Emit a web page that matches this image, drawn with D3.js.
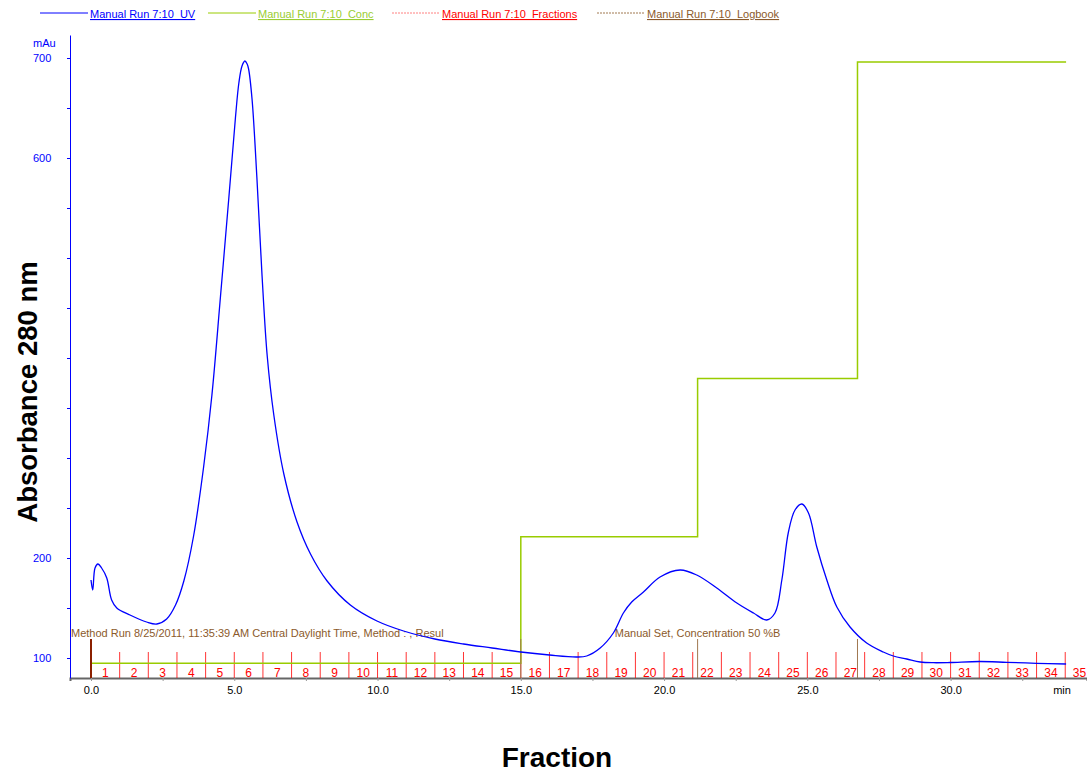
<!DOCTYPE html>
<html>
<head>
<meta charset="utf-8">
<title>Chromatogram</title>
<style>
  body { margin: 0; background: #fff; }
  svg { display: block; font-family: "Liberation Sans", Arial, sans-serif; }
</style>
</head>
<body>
<script src="https://cdn.jsdelivr.net/npm/d3@7"></script>
<script>
  // UV trace (min, mAu)
  var uvTime = [0.00, 0.06, 0.14, 0.24, 0.37, 0.55, 0.72, 0.90, 1.36, 1.94, 2.30, 2.64, 2.95, 3.24, 3.58, 3.93,
    4.22, 4.52, 4.81, 5.04, 5.16, 5.27, 5.37, 5.45, 5.50, 5.62, 5.79, 5.97, 6.15, 6.38, 6.73, 7.19, 7.66, 8.24,
    9.05, 9.98, 10.91, 12.0, 13.0, 14.0, 15.0, 16.0, 16.95, 17.30, 17.77, 18.23, 18.58, 18.87, 19.28, 19.86,
    20.56, 21.14, 21.84, 22.54, 23.12, 23.58, 23.87, 24.11, 24.34, 24.57, 24.81, 25.04, 25.33, 25.68, 26.03,
    26.49, 27.07, 27.65, 28.0, 28.47, 28.94, 29.4, 29.98, 31.0, 31.96, 33.0, 34.03];
  var uvAbs = [178, 168, 190, 194, 190, 180, 158, 150, 143, 136, 134, 139, 153, 177, 222, 291,
    363, 462, 560, 640, 675, 692, 697, 694, 689, 659, 580, 482, 402, 343, 284, 236, 204, 177,
    153, 137, 127, 119, 114, 110, 106, 103, 101, 102, 110, 125, 145, 156, 166, 181,
    188, 183, 170, 155, 145, 138, 145, 178, 226, 248, 254, 245, 211, 178, 151,
    131, 115, 106, 102, 99, 96, 95.3, 95.5, 96.5, 95.7, 94.7, 94];

  // concentration steps (%B)
  var concTime = [0, 15.0, 21.17, 26.75, 34.03];
  var concValue = [5, 25, 50, 100, 100];

  // fractions, 1 min each
  var fractionStart = d3.range(0, 35);
  var fractionLabels = d3.range(1, 36).map(String);

  // logbook
  var logTime = [0, 15.0, 21.17, 26.75];
  var logText = ["Method Run 8/25/2011, 11:35:39 AM Central Daylight Time, Method : , Resul", "", "Manual Set, Concentration 50 %B", ""];

  var yTickLabels = [100, 200, 600, 700];
  var xTickLabels = [0, 5, 10, 15, 20, 25, 30];

  var legendNames = ["Manual Run 7:10_UV", "Manual Run 7:10_Conc", "Manual Run 7:10_Fractions", "Manual Run 7:10_Logbook"];

  var width = 1087, height = 776;
  var uvColor = "#0000ff", concColor = "#99cc00", fracColor = "#ff0000", logColor = "#a07850", logText_c = "#8b5a2b";

  var svg = d3.select("body").append("svg")
      .attr("width", width).attr("height", height);

  var x = d3.scaleLinear().domain([-0.733, 34.76]).range([70, 1087]);
  var y = d3.scaleLinear().domain([80, 723]).range([678, 35]);
  var yConc = d3.scaleLinear().domain([0, 100]).range([695, 62]);

  // x axis
  var xAxis = svg.append("g")
      .attr("transform", "translate(0,678)")
      .call(d3.axisBottom(x).tickValues(d3.range(0, 33, 2.5)).tickSize(3)
        .tickFormat(d => xTickLabels.includes(d) ? d.toFixed(1) : ""));
  xAxis.select(".domain").attr("stroke", "#666").attr("stroke-width", 2);
  xAxis.selectAll(".tick line").attr("stroke", "#999");
  xAxis.selectAll(".tick text").attr("font-size", 11).attr("fill", "#000").attr("dy", "0.9em");
  svg.append("text").attr("x", 1062).attr("y", 694).attr("text-anchor", "middle")
      .attr("font-size", 11).text("min");

  // y axis
  var yAxis = svg.append("g")
      .attr("transform", "translate(70,0)")
      .call(d3.axisLeft(y).tickValues(d3.range(100, 701, 50)).tickSize(3).tickSizeOuter(0)
        .tickFormat(d => yTickLabels.includes(d) ? d : ""));
  yAxis.select(".domain").attr("stroke", uvColor);
  yAxis.selectAll(".tick line").attr("stroke", uvColor);
  yAxis.selectAll(".tick text").attr("font-size", 11).attr("fill", uvColor)
      .attr("text-anchor", "start").attr("x", -37);
  svg.append("text").attr("x", 33).attr("y", 47).attr("font-size", 11).attr("fill", uvColor).text("mAu");

  // fractions
  svg.append("g").selectAll("line")
    .data(fractionStart)
    .join("line")
      .attr("x1", d => x(d)).attr("x2", d => x(d))
      .attr("y1", 652).attr("y2", 678)
      .attr("stroke", fracColor).attr("stroke-opacity", 0.8);
  svg.append("g").selectAll("text")
    .data(fractionLabels)
    .join("text")
      .attr("x", (d, i) => x(fractionStart[i] + 0.5))
      .attr("y", 677)
      .attr("text-anchor", "middle")
      .attr("font-size", 12)
      .attr("fill", fracColor)
      .text(d => d);

  // concentration
  var concLine = d3.line().x(d => x(d[0])).y(d => yConc(d[1])).curve(d3.curveStepAfter);
  svg.append("path")
      .attr("d", concLine(concTime.map((t, i) => [t, concValue[i]])))
      .attr("fill", "none").attr("stroke", concColor).attr("stroke-width", 1.5);

  // logbook
  svg.append("g").selectAll("line")
    .data(logTime)
    .join("line")
      .attr("x1", d => x(d)).attr("x2", d => x(d))
      .attr("y1", 639).attr("y2", 678)
      .attr("stroke", (d, i) => i == 0 ? "#8b2000" : logColor)
      .attr("stroke-width", (d, i) => i == 0 ? 2 : 1);
  svg.append("g").selectAll("text")
    .data(logText)
    .join("text")
      .attr("x", (d, i) => i == 0 ? 71 : x(logTime[i]))
      .attr("y", 637)
      .attr("text-anchor", (d, i) => i == 0 ? "start" : "middle")
      .attr("font-size", 11)
      .attr("fill", logText_c)
      .text(d => d);

  // UV
  var uvLine = d3.line().x(d => x(d[0])).y(d => y(d[1])).curve(d3.curveCatmullRom.alpha(0.5));
  svg.append("path")
      .attr("d", uvLine(uvTime.map((t, i) => [t, uvAbs[i]])))
      .attr("fill", "none").attr("stroke", uvColor).attr("stroke-width", 1.3);

  // legend
  var legX = [40, 208, 392, 597];
  var legColors = [uvColor, concColor, "#ff8080", logColor];
  var legText = [uvColor, "#9acd32", fracColor, logText_c];
  var leg = svg.append("g").selectAll("g")
    .data(legendNames)
    .join("g")
      .attr("transform", (d, i) => `translate(${legX[i]},0)`);
  leg.append("line")
      .attr("x1", 0).attr("x2", 48).attr("y1", 13).attr("y2", 13)
      .attr("stroke", (d, i) => legColors[i])
      .attr("stroke-dasharray", (d, i) => i >= 2 ? "2,1" : null);
  leg.append("text")
      .attr("x", 50).attr("y", 18)
      .attr("font-size", 11)
      .attr("text-decoration", "underline")
      .attr("fill", (d, i) => legText[i])
      .text(d => d);

  // titles
  svg.append("text")
      .attr("transform", "translate(37,392) rotate(-90)")
      .attr("text-anchor", "middle")
      .attr("font-size", 27.5).attr("font-weight", "bold")
      .text("Absorbance 280 nm");
  svg.append("text")
      .attr("x", 557).attr("y", 767)
      .attr("text-anchor", "middle")
      .attr("font-size", 28).attr("font-weight", "bold")
      .text("Fraction");
</script>
</body>
</html>
